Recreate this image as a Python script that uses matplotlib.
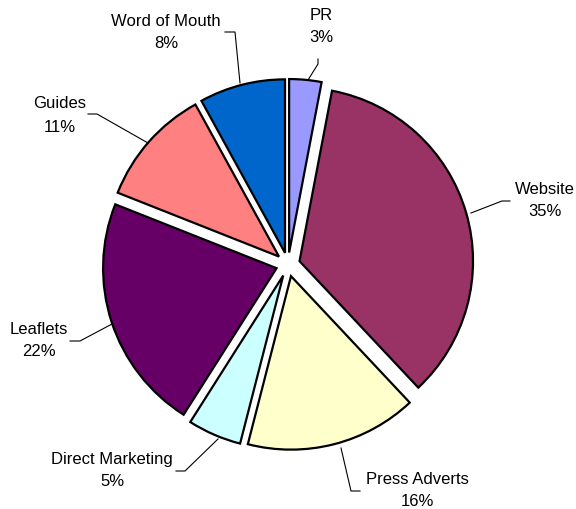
import matplotlib
matplotlib.use("Agg")
import matplotlib.pyplot as plt

categories = ["PR", "Website", "Press Adverts", "Direct Marketing",
              "Leaflets", "Guides", "Word of Mouth"]
shares = [3, 35, 16, 5, 22, 11, 8]
colors = ["#9999FF", "#993366", "#FFFFCC", "#CCFFFF",
          "#660066", "#FF8080", "#0066CC"]

W, H = 576, 510
fig = plt.figure(figsize=(W / 100, H / 100), dpi=100)
ax = fig.add_axes([0, 0, 1, 1])

cx, cy = 288, H - 265.5
radius = 173.5
gap = 12  # explode distance, in the same pixel units as the axes
ax.pie(shares, colors=colors, center=(cx, cy), radius=radius,
       explode=[gap] * len(shares), startangle=90, counterclock=False,
       wedgeprops=dict(edgecolor="black", linewidth=1.6))
ax.set_xlim(0, W)
ax.set_ylim(0, H)
ax.set_aspect("equal")
ax.axis("off")

# label: x centre, y of name line, y of percent line (pixels from top)
label_pos = {
    "PR": (321, 15, 38),
    "Website": (545, 189, 212),
    "Press Adverts": (417, 480, 502),
    "Direct Marketing": (112, 460, 482),
    "Leaflets": (39, 330, 352),
    "Guides": (60, 104, 127),
    "Word of Mouth": (166, 22, 44),
}
leaders = {
    "PR": [(318, 60), (318, 65), (308, 81)],
    "Website": [(510, 202), (502, 202), (471, 214)],
    "Press Adverts": [(360, 492), (351, 492), (341, 449)],
    "Direct Marketing": [(176, 472), (185, 472), (218, 440)],
    "Leaflets": [(70, 342), (80, 342), (112, 325)],
    "Guides": [(88, 115), (97, 115), (148, 144)],
    "Word of Mouth": [(225, 33), (235, 33), (240, 84)],
}

font = ["Liberation Sans", "DejaVu Sans"]
for name, val in zip(categories, shares):
    x, y1, y2 = label_pos[name]
    ax.text(x, H - y1, name, ha="center", va="center",
            fontsize=12, family=font, color="black")
    ax.text(x, H - y2, f"{val}%", ha="center", va="center",
            fontsize=12, family=font, color="black")
    pts = leaders[name]
    ax.plot([p[0] for p in pts], [H - p[1] for p in pts],
            color="black", linewidth=0.8)

fig.savefig("out.png", dpi=100, facecolor="white")
